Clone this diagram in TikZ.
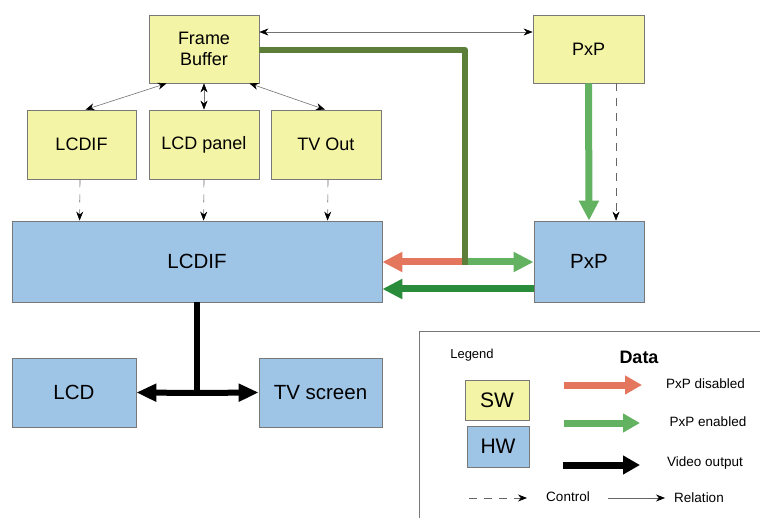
\documentclass[tikz,border=0pt]{standalone}
\usepackage{fontspec}
\setmainfont{Liberation Sans}
\usetikzlibrary{arrows.meta,calc}
\definecolor{swfill}{RGB}{244,244,166}
\definecolor{hwfill}{RGB}{158,196,230}
\definecolor{boxline}{RGB}{120,120,120}
\definecolor{redarr}{RGB}{228,118,94}
\definecolor{lgreen}{RGB}{98,178,98}
\definecolor{dgreen}{RGB}{40,140,58}
\definecolor{olive}{RGB}{92,126,56}
\tikzset{
  swbox/.style={draw=boxline,line width=0.8pt,fill=swfill,inner sep=0pt,align=center,font=\fontsize{18}{21}\selectfont},
  hwbox/.style={draw=boxline,line width=0.8pt,fill=hwfill,inner sep=0pt,align=center,font=\fontsize{20.5}{24}\selectfont},
  rel/.style={draw=black!55,line width=0.6pt,{Stealth[length=9pt,width=7pt,color=black]}-{Stealth[length=9pt,width=7pt,color=black]}},
  ctl/.style={draw=black!60,line width=0.6pt,dash pattern=on 8pt off 7pt,-{Stealth[length=9pt,width=7pt,color=black]}},
  fat/.style={line width=7pt,-{Triangle[length=20pt,width=19pt]}},
  lbl/.style={font=\fontsize{13.5}{16}\selectfont}
}
\begin{document}
\begin{tikzpicture}[x=1pt,y=-1pt]
\useasboundingbox (0,0) rectangle (760,518);
\fill[white] (0,0) rectangle (760,518);
% SW boxes
\node[swbox,minimum width=110pt,minimum height=68pt] (fb) at (204,49) {Frame\\Buffer};
\node[swbox,minimum width=111pt,minimum height=68pt] (pxps) at (588.5,49) {PxP};
\node[swbox,minimum width=109pt,minimum height=69pt] (lcdifs) at (81.5,144.5) {LCDIF};
\node[swbox,minimum width=110pt,minimum height=69pt] (panel) at (204,144.5) {LCD panel};
\node[swbox,minimum width=110pt,minimum height=69pt] (tvout) at (326,144.5) {TV Out};
% HW boxes
\node[hwbox,minimum width=370pt,minimum height=81pt] (lcdifh) at (197,261.5) {LCDIF};
\node[hwbox,minimum width=110pt,minimum height=81pt] (pxph) at (589,261.5) {PxP};
\node[hwbox,minimum width=124pt,minimum height=69pt] (lcd) at (74,392.5) {LCD};
\node[hwbox,minimum width=123pt,minimum height=69pt] (tv) at (320.5,392.5) {TV screen};
% relations
\draw[rel] ($(fb.east)+(0,-17)$) -- ($(pxps.west)+(0,-17)$);
\draw[rel] ($(fb.south west)+(18,0)$) -- ($(lcdifs.north)+(4,0)$);
\draw[rel] (fb.south) -- (panel.north);
\draw[rel] ($(fb.south east)+(-10,0)$) -- ($(tvout.north)+(-1,0)$);
% control
\draw[ctl] ($(lcdifs.south)+(-1.5,0)$) -- ($(lcdifh.north west)+(68,0)$);
\draw[ctl] (panel.south) -- ($(lcdifh.north west)+(192,0)$);
\draw[ctl] ($(tvout.south)+(2,0)$) -- ($(lcdifh.north west)+(316,0)$);
\draw[ctl] ($(pxps.south)+(27.5,0)$) -- ($(pxph.north)+(27,0)$);
% data
\coordinate (j) at (465,262);
\draw[fat,redarr] (j) -- ($(lcdifh.east)+(0,0.5)$);
\draw[fat,lgreen] (j) -- ($(pxph.west)+(0,0.5)$);
\draw[olive,line width=6pt,line join=round] ($(fb.east)+(0,1)$) -| ($(j)+(0,3)$);
\draw[fat,lgreen] (pxps.south) -- (pxph.north);
\draw[fat,dgreen] ($(pxph.west)+(0,27.5)$) -- ($(lcdifh.east)+(0,27.5)$);
\coordinate (v) at (197,393);
\draw[black,line width=6pt] (lcdifh.south) -- ($(v)+(0,3)$);
\draw[black,line width=6pt,-{Triangle[length=20pt,width=17pt]}] (v) -- (lcd.east);
\draw[black,line width=6pt,-{Triangle[length=20pt,width=17pt]}] (v) -- (tv.west);
% legend
\draw[boxline,line width=0.8pt] (761,331) -- (419,331) -- (419,519);
\node[lbl,font=\fontsize{13}{15}\selectfont] (lg) at (472,355) {Legend};
\node[font=\fontsize{18}{21}\selectfont\bfseries] (data) at (639,357) {Data};
\node[swbox,minimum width=64pt,minimum height=40pt,font=\fontsize{21}{24}\selectfont] (sw) at (497,400) {SW};
\node[hwbox,minimum width=62pt,minimum height=41pt,font=\fontsize{21}{24}\selectfont] (hw) at (498,446.5) {HW};
\node[lbl] (t1) at (705.5,384) {PxP disabled};
\node[lbl] (t2) at (708,422) {PxP enabled};
\node[lbl] (t3) at (705,463) {Video output};
\node[lbl] (t4) at (568,497) {Control};
\node[lbl] (t5) at (699,498) {Relation};
\coordinate (a1) at (564,385);
\coordinate (a2) at (564,423);
\coordinate (a3) at (563,465);
\draw[redarr,line width=7pt,-{Triangle[length=17pt,width=18pt]}] (a1) -- (642,385);
\draw[lgreen,line width=7pt,-{Triangle[length=17pt,width=18pt]}] (a2) -- (640,423);
\draw[black,line width=7pt,-{Triangle[length=17pt,width=18pt]}] (a3) -- (640,465);
\draw[ctl] (469,498) -- (527,498);
\draw[black!60,line width=0.6pt,-{Stealth[length=9pt,width=7pt,color=black]}] (608,498) -- (665,498);
\end{tikzpicture}
\end{document}
